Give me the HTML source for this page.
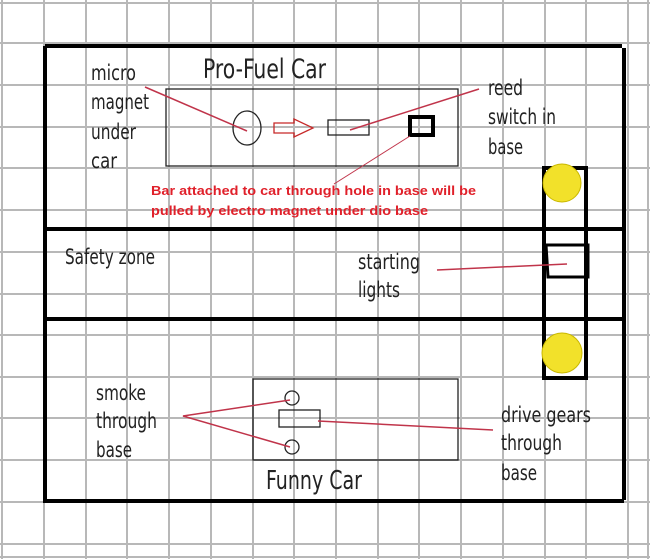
<!DOCTYPE html>
<html><head><meta charset="utf-8"><style>
html,body{margin:0;padding:0;background:#fff}
svg{display:block}
.h{font-family:"DejaVu Sans Condensed","Liberation Sans Narrow","Liberation Sans",sans-serif;fill:#222}
.r{font-family:"Liberation Sans",sans-serif;font-weight:bold;font-size:12.5px;fill:#e0202a}
</style></head><body>
<svg width="650" height="559" viewBox="0 0 650 559" xmlns="http://www.w3.org/2000/svg">
<rect width="650" height="559" fill="#fff"/>
<g stroke="#b8b8b8" stroke-width="2">
<line x1="2" y1="0" x2="2" y2="559"/><line x1="44" y1="0" x2="44" y2="559"/><line x1="86" y1="0" x2="86" y2="559"/><line x1="127" y1="0" x2="127" y2="559"/><line x1="169" y1="0" x2="169" y2="559"/><line x1="211" y1="0" x2="211" y2="559"/><line x1="253" y1="0" x2="253" y2="559"/><line x1="294" y1="0" x2="294" y2="559"/><line x1="336" y1="0" x2="336" y2="559"/><line x1="378" y1="0" x2="378" y2="559"/><line x1="419" y1="0" x2="419" y2="559"/><line x1="461" y1="0" x2="461" y2="559"/><line x1="503" y1="0" x2="503" y2="559"/><line x1="545" y1="0" x2="545" y2="559"/><line x1="586" y1="0" x2="586" y2="559"/><line x1="628" y1="0" x2="628" y2="559"/><line x1="648" y1="0" x2="648" y2="559"/>
<line x1="0" y1="3" x2="650" y2="3"/><line x1="0" y1="43" x2="650" y2="43"/><line x1="0" y1="85" x2="650" y2="85"/><line x1="0" y1="127" x2="650" y2="127"/><line x1="0" y1="168" x2="650" y2="168"/><line x1="0" y1="210" x2="650" y2="210"/><line x1="0" y1="252" x2="650" y2="252"/><line x1="0" y1="294" x2="650" y2="294"/><line x1="0" y1="335" x2="650" y2="335"/><line x1="0" y1="377" x2="650" y2="377"/><line x1="0" y1="418" x2="650" y2="418"/><line x1="0" y1="460" x2="650" y2="460"/><line x1="0" y1="502" x2="650" y2="502"/><line x1="0" y1="544" x2="650" y2="544"/><line x1="0" y1="557" x2="650" y2="557"/>
</g>
<g stroke="#000" stroke-width="4" fill="none">
<path d="M45 46 H622 M624 48 V500 M45 46 V501 H624 M45 229 H624 M45 319 H624"/>
<rect x="544" y="168" width="42" height="210"/>
<path d="M546 245 H588 V277 H548 Z" stroke-width="3"/>
</g>
<circle cx="562" cy="183" r="19" fill="#f2e12a" stroke="#c9b800" stroke-width="1"/>
<circle cx="562" cy="353" r="20" fill="#f2e12a" stroke="#c9b800" stroke-width="1"/>
<g stroke="#222" stroke-width="1.3" fill="none">
<rect x="166" y="89" width="292" height="77"/>
<ellipse cx="247" cy="128" rx="14" ry="17"/>
<rect x="328" y="120" width="41" height="15"/>
<rect x="253" y="379" width="205" height="81"/>
<circle cx="292" cy="398" r="7"/><circle cx="292" cy="447" r="7"/>
<rect x="279" y="410" width="41" height="17"/>
</g>
<rect x="410" y="117" width="23" height="18" fill="none" stroke="#000" stroke-width="4"/>
<path d="M274 123 H294 V119 L313 128 L294 137 V133 H274 Z" fill="none" stroke="#c62828" stroke-width="1.3"/>
<g stroke="#c0344a" stroke-width="1.5" fill="none">
<line x1="145" y1="87" x2="247" y2="131"/>
<line x1="479" y1="89" x2="350" y2="130"/>
<line x1="410" y1="136" x2="334" y2="184" stroke-width="1"/>
<line x1="437" y1="270" x2="567" y2="264"/>
<path d="M290 400 L183 416 L290 447"/>
<line x1="318" y1="421" x2="493" y2="430"/>
</g>
<g class="h" font-size="21">
<text x="203" y="78" font-size="27" textLength="123" lengthAdjust="spacingAndGlyphs">Pro-Fuel Car</text>
<text x="91" y="80" textLength="45" lengthAdjust="spacingAndGlyphs">micro</text>
<text x="91" y="109" textLength="58" lengthAdjust="spacingAndGlyphs">magnet</text>
<text x="91" y="139" textLength="45" lengthAdjust="spacingAndGlyphs">under</text>
<text x="91" y="168" textLength="26" lengthAdjust="spacingAndGlyphs">car</text>
<text x="488" y="95" textLength="35" lengthAdjust="spacingAndGlyphs">reed</text>
<text x="488" y="124" textLength="68" lengthAdjust="spacingAndGlyphs">switch in</text>
<text x="488" y="154" textLength="35" lengthAdjust="spacingAndGlyphs">base</text>
<text x="65" y="264" textLength="90" lengthAdjust="spacingAndGlyphs">Safety zone</text>
<text x="358" y="269" textLength="62" lengthAdjust="spacingAndGlyphs">starting</text>
<text x="358" y="297" textLength="42" lengthAdjust="spacingAndGlyphs">lights</text>
<text x="96" y="400" textLength="50" lengthAdjust="spacingAndGlyphs">smoke</text>
<text x="96" y="428" textLength="61" lengthAdjust="spacingAndGlyphs">through</text>
<text x="96" y="457" textLength="36" lengthAdjust="spacingAndGlyphs">base</text>
<text x="501" y="422" textLength="90" lengthAdjust="spacingAndGlyphs">drive gears</text>
<text x="501" y="450" textLength="61" lengthAdjust="spacingAndGlyphs">through</text>
<text x="501" y="480" textLength="36" lengthAdjust="spacingAndGlyphs">base</text>
<text x="266" y="489" font-size="26" textLength="96" lengthAdjust="spacingAndGlyphs">Funny Car</text>
</g>
<text class="r" x="151" y="195" textLength="325" lengthAdjust="spacingAndGlyphs">Bar attached to car through hole in base will be</text>
<text class="r" x="151" y="215" textLength="277" lengthAdjust="spacingAndGlyphs">pulled by electro magnet under dio base</text>
</svg>
</body></html>
